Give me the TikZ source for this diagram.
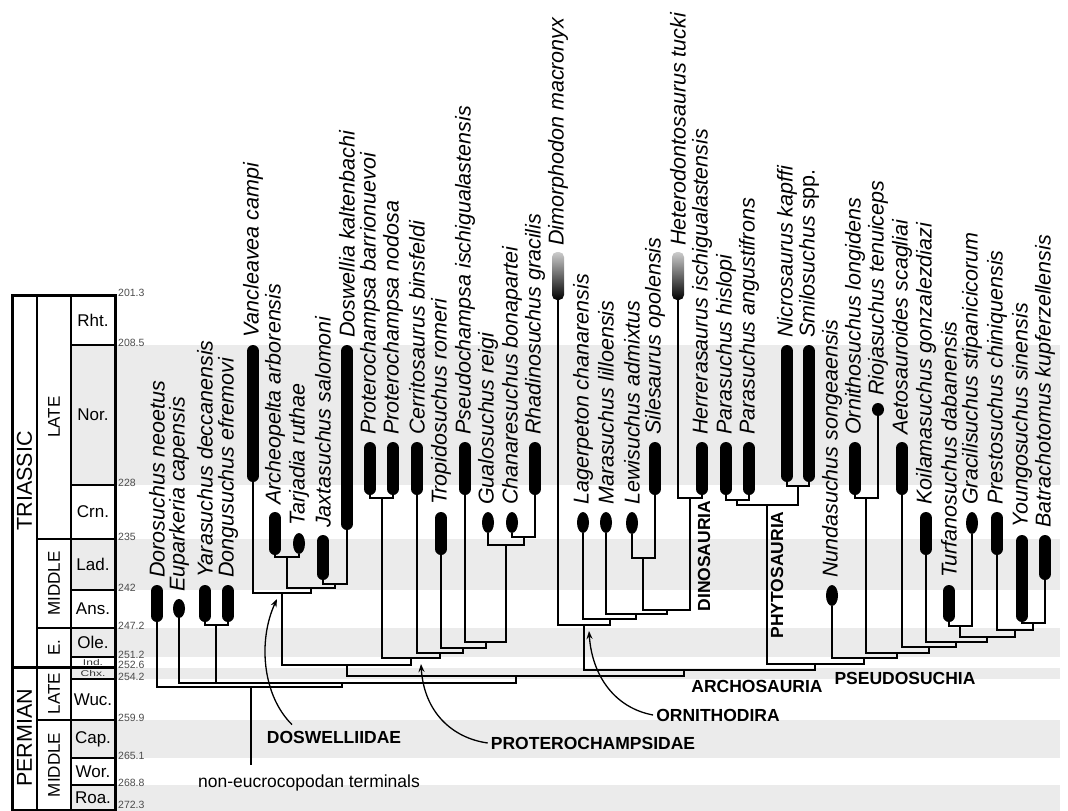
\documentclass[tikz,border=0pt]{standalone}
\usepackage{fontspec}
\setmainfont{Liberation Sans}
\usetikzlibrary{arrows.meta}
\newcommand{\tbar}[5]{%
  \coordinate (#1) at (#2,#4);
  \draw[barline] (#2,#3+6) -- (#2,#4-6);
  \node[taxon] (#1l) at (#2,#3-7) {#5};}
\newcommand{\tdot}[5]{%
  \coordinate (#1) at (#2,#4);
  \fill (#2,{(#3+#4)/2}) ellipse [x radius=6, y radius={(#4-#3)/2}];
  \node[taxon] (#1l) at (#2,#3-7) {#5};}
\newcommand{\tgrad}[5]{%
  \coordinate (#1) at (#2,#4);
  \shade[top color=black!20, bottom color=black, rounded corners=5pt] (#2-6,#3) rectangle (#2+6,#4);
  \node[taxon] (#1l) at (#2,#3-6) {#5};}
\begin{document}
\begin{tikzpicture}[x=1pt,y=-1pt,
  branch/.style={line width=2.8pt, line join=miter},
  barline/.style={line width=12pt, line cap=round},
  taxon/.style={rotate=90, anchor=west, inner sep=0pt, font=\fontsize{21.5}{24}\selectfont\itshape},
  clade/.style={font=\fontsize{17.5}{20}\selectfont\bfseries, inner sep=0pt},
  vclade/.style={rotate=90, font=\fontsize{17.5}{19}\selectfont\bfseries, inner sep=0pt},
  pointer/.style={line width=1.3pt, -{Stealth[length=8pt,width=6pt]}},
  band/.style={fill=black!8, draw=none},
  age/.style={font=\fontsize{10.5}{11}\selectfont, text=black!70, anchor=west, inner sep=0pt},
  period/.style={rotate=90, font=\fontsize{21.5}{24}\selectfont, inner sep=0pt},
  epoch/.style={rotate=90, font=\fontsize{17}{19}\selectfont, inner sep=0pt},
  stage/.style={font=\fontsize{17}{19}\selectfont, inner sep=0pt},
  tiny stage/.style={font=\fontsize{12}{12}\selectfont, inner sep=0pt, text=black!80, yscale=0.7, transform shape},
  frame/.style={line width=3pt},
  sep/.style={line width=2.4pt},
  stagesep/.style={line width=1.6pt}]
\useasboundingbox (0,0) rectangle (1068,811);
% ---------- background bands
\foreach \a/\b in {345/485, 539/590, 628/657, 668/679, 720/758, 785/811}
  \fill[band] (71,\a) rectangle (1060,\b);
% ---------- time scale
\draw[frame] (12,295) rectangle (115,810);
\draw[sep] (37,295) -- (37,810);
\draw[sep] (71,295) -- (71,810);
\draw[frame] (12,667) -- (115,667);
\foreach \y in {539,628,720} \draw[sep] (37,\y) -- (115,\y);
\foreach \y in {345,485,590,657,679,758,785} \draw[stagesep] (71,\y) -- (115,\y);
\node[period] (pTri) at (24.5,481) {TRIASSIC};
\node[period] (pPer) at (24.5,738) {PERMIAN};
\node[epoch] (eLT) at (54,417) {LATE};
\node[epoch] (eMT) at (54,583.5) {MIDDLE};
\node[epoch] (eET) at (54,647.5) {E.};
\node[epoch] (eLP) at (54,693.5) {LATE};
\node[epoch] (eMP) at (54,765) {MIDDLE};
\foreach \n/\y/\t in {sRht/320/Rht., sNor/415/Nor., sCrn/512/Crn., sLad/564.5/Lad., sAns/609/Ans., sOle/642.5/Ole., sWuc/699.5/Wuc., sCap/739/Cap., sWor/771.5/Wor., sRoa/797.5/Roa.}
  \node[stage] (\n) at (93,\y) {\t};
\node[tiny stage] (sInd) at (93,662) {Ind.};
\node[tiny stage] (sChx) at (93,673.5) {Chx.};
\foreach \n/\y/\t in {a1/295/201.3, a2/345/208.5, a3/485/228, a4/539/235, a5/590/242, a6/628/247.2, a7/657/251.2, a8/667/252.6, a9/679/254.2, a10/720/259.9, a11/758/265.1, a12/785/268.8, a13/807/272.3}
  \node[age] (\n) at (118,\y-2) {\t};
% ---------- internal node coordinates (stem x, line y)
\coordinate (AT) at (287,557);
\coordinate (JD) at (335,584);
\coordinate (ATJD) at (311,588);
\coordinate (Dosw) at (282,593);
\coordinate (PP) at (382,498);
\coordinate (CR) at (524,537);
\coordinate (GCR) at (506,545);
\coordinate (PsG) at (486,642);
\coordinate (Tr) at (463,648);
\coordinate (Ce) at (440,653);
\coordinate (Prot) at (411,658);
\coordinate (DP) at (347,665);
\coordinate (LS) at (643,558);
\coordinate (Dino) at (690,498);
\coordinate (LSD) at (667,610);
\coordinate (Mar) at (636,614);
\coordinate (Lag) at (610,619);
\coordinate (Orn) at (584,625);
\coordinate (PaPa) at (737,500);
\coordinate (NS) at (798,486);
\coordinate (Phy) at (767,505);
\coordinate (OR) at (866,498);
\coordinate (YB) at (1033,623);
\coordinate (PYB) at (1015,630);
\coordinate (TG) at (960,626);
\coordinate (TGPYB) at (987,637);
\coordinate (Koi) at (956,642);
\coordinate (Aet) at (929,647);
\coordinate (Ornsuch) at (897,653);
\coordinate (Pseudo) at (864,658);
\coordinate (PhPs) at (815,664);
\coordinate (Arch) at (684,670);
\coordinate (Euc) at (516,676);
\coordinate (E2) at (342,683);
\coordinate (YD) at (216,625);
\coordinate (Root) at (251,687);
\coordinate (ptr) at (251,765);
% ---------- taxa
\tbar{t1}{157}{585}{622}{Dorosuchus neoetus}
\tdot{t2}{179}{599}{618}{Euparkeria capensis}
\tbar{t3}{205}{585}{622}{Yarasuchus deccanensis}
\tbar{t4}{228}{585}{622}{Dongusuchus efremovi}
\tbar{t5}{253}{345}{482}{Vancleavea campi}
\tbar{t6}{275}{512}{555}{Archeopelta arborensis}
\tdot{t7}{299}{533}{554}{Tarjadia ruthae}
\tbar{t8}{323}{535}{580}{Jaxtasuchus salomoni}
\tbar{t9}{347}{345}{530}{Doswellia kaltenbachi}
\tbar{t10}{370}{442}{495}{Proterochampsa barrionuevoi}
\tbar{t11}{393}{442}{495}{Proterochampsa nodosa}
\tbar{t12}{417}{442}{495}{Cerritosaurus binsfeldi}
\tbar{t13}{441}{512}{555}{Tropidosuchus romeri}
\tbar{t14}{465}{442}{495}{Pseudochampsa ischigualastensis}
\tdot{t15}{488}{512}{533}{Gualosuchus reigi}
\tdot{t16}{512}{512}{533}{Chanaresuchus bonapartei}
\tbar{t17}{535}{442}{495}{Rhadinosuchus gracilis}
\tgrad{t18}{558}{252}{300}{Dimorphodon macronyx}
\tdot{t19}{583}{512}{533}{Lagerpeton chanarensis}
\tdot{t20}{606}{512}{533}{Marasuchus lilloensis}
\tdot{t21}{632}{512}{534}{Lewisuchus admixtus}
\tbar{t22}{655}{442}{495}{Silesaurus opolensis}
\tgrad{t23}{678}{252}{300}{Heterodontosaurus tucki}
\tbar{t24}{702}{442}{495}{Herrerasaurus ischigualastensis}
\tbar{t25}{726}{442}{495}{Parasuchus hislopi}
\tbar{t26}{749}{442}{495}{Parasuchus angustifrons}
\tbar{t27}{787}{345}{482}{Nicrosaurus kapffi}
\tbar{t28}{809}{345}{482}{Smilosuchus \upshape spp.}
\tdot{t29}{832}{585}{606}{Nundasuchus songeaensis}
\tbar{t30}{855}{442}{495}{Ornithosuchus longidens}
\tdot{t31}{878}{403}{416}{Riojasuchus tenuiceps}
\tbar{t32}{902}{442}{495}{Aetosauroides scagliai}
\tbar{t33}{926}{512}{555}{Koilamasuchus gonzalezdiazi}
\tbar{t34}{949}{585}{622}{Turfanosuchus dabanensis}
\tdot{t35}{972}{512}{534}{Gracilisuchus stipanicicorum}
\tbar{t36}{997}{512}{555}{Prestosuchus chiniquensis}
\tbar{t37}{1022}{535}{622}{Youngosuchus sinensis}
\tbar{t38}{1045}{535}{580}{Batrachotomus kupferzellensis}
% ---------- branches
\draw[branch] (t6) |- (AT) -| (t7);
\draw[branch] (t8) |- (JD) -| (t9);
\draw[branch] (AT) |- (ATJD) -| (JD);
\draw[branch] (t5) |- (Dosw) -| (ATJD);
\draw[branch] (t10) |- (PP) -| (t11);
\draw[branch] (t16) |- (CR) -| (t17);
\draw[branch] (t15) |- (GCR) -| (CR);
\draw[branch] (t14) |- (PsG) -| (GCR);
\draw[branch] (t13) |- (Tr) -| (PsG);
\draw[branch] (t12) |- (Ce) -| (Tr);
\draw[branch] (PP) |- (Prot) -| (Ce);
\draw[branch] (Dosw) |- (DP) -| (Prot);
\draw[branch] (t21) |- (LS) -| (t22);
\draw[branch] (t23) |- (Dino) -| (t24);
\draw[branch] (LS) |- (LSD) -| (Dino);
\draw[branch] (t20) |- (Mar) -| (LSD);
\draw[branch] (t19) |- (Lag) -| (Mar);
\draw[branch] (t18) |- (Orn) -| (Lag);
\draw[branch] (t25) |- (PaPa) -| (t26);
\draw[branch] (t27) |- (NS) -| (t28);
\draw[branch] (PaPa) |- (Phy) -| (NS);
\draw[branch] (t30) |- (OR) -| (t31);
\draw[branch] (t37) |- (YB) -| (t38);
\draw[branch] (t36) |- (PYB) -| (YB);
\draw[branch] (t34) |- (TG) -| (t35);
\draw[branch] (TG) |- (TGPYB) -| (PYB);
\draw[branch] (t33) |- (Koi) -| (TGPYB);
\draw[branch] (t32) |- (Aet) -| (Koi);
\draw[branch] (OR) |- (Ornsuch) -| (Aet);
\draw[branch] (t29) |- (Pseudo) -| (Ornsuch);
\draw[branch] (Phy) |- (PhPs) -| (Pseudo);
\draw[branch] (Orn) |- (Arch) -| (PhPs);
\draw[branch] (DP) |- (Euc) -| (Arch);
\draw[branch] (t3) |- (YD) -| (t4);
\draw[branch] (t2) |- (E2) -| (Euc);
\draw[branch] (YD) -- (YD |- E2);
\draw[branch] (t1) |- (Root) -| (E2);
\draw[branch] (Root) -- (ptr);
% ---------- clade labels
\node[clade] (lDosw) at (334,737) {DOSWELLIIDAE};
\node[clade] (lProt) at (593,743) {PROTEROCHAMPSIDAE};
\node[clade] (lOrn) at (718,715) {ORNITHODIRA};
\node[clade] (lArch) at (757,686) {ARCHOSAURIA};
\node[clade] (lPseudo) at (905,678) {PSEUDOSUCHIA};
\node[vclade] (lDino) at (704,556) {DINOSAURIA};
\node[vclade] (lPhy) at (777,575) {PHYTOSAURIA};
\node[font=\fontsize{17.5}{20}\selectfont, inner sep=0pt] (lNon) at (309,783) {non-eucrocopodan terminals};
\coordinate (aDosw) at (277,599);
\coordinate (aProt) at (421,664);
\coordinate (aOrn) at (589,631);
\draw[pointer] ([xshift=-42pt,yshift=6pt]lDosw.north) .. controls (262,695) and (258,640) .. (aDosw);
\draw[pointer] ([xshift=-3pt]lProt.west) .. controls (452,738) and (424,712) .. (aProt);
\draw[pointer] ([xshift=-3pt]lOrn.west) .. controls (615,708) and (592,676) .. (aOrn);
\end{tikzpicture}
\end{document}
